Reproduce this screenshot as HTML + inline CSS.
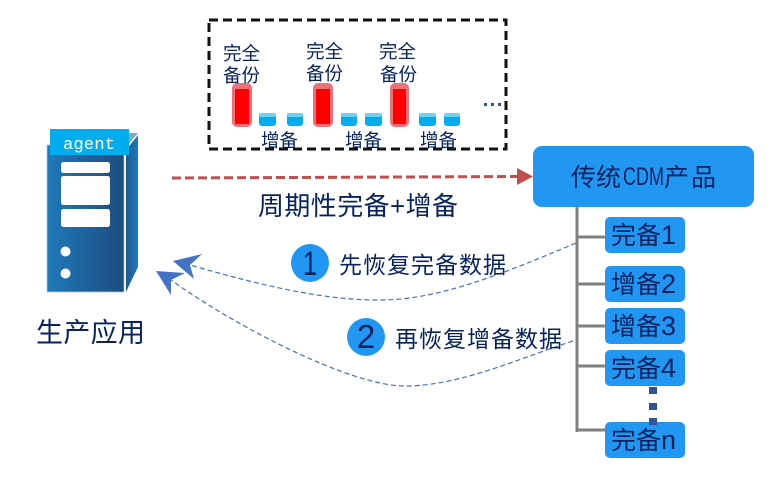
<!DOCTYPE html>
<html><head><meta charset="utf-8">
<style>
html,body{margin:0;padding:0;background:#fff;width:774px;height:481px;overflow:hidden}
svg{display:block}
text{font-family:"Liberation Sans","Noto Sans CJK SC",sans-serif;fill:#06235f}
</style></head>
<body>
<svg width="774" height="481" viewBox="0 0 774 481" xmlns="http://www.w3.org/2000/svg">
<defs>
<linearGradient id="g1" x1="0" x2="1" y1="0" y2="0"><stop offset="0" stop-color="#2079bb"/><stop offset="1" stop-color="#1c4c7e"/></linearGradient>
<linearGradient id="g2" x1="0" x2="1" y1="0" y2="0"><stop offset="0" stop-color="#1c5a94"/><stop offset="1" stop-color="#2078b8"/></linearGradient>
</defs>

<rect x="209" y="20" width="297" height="129" fill="#fff" stroke="#111" stroke-width="3" stroke-dasharray="9 5"/>

<g fill="#f0707a">
<rect x="232" y="83" width="20" height="44" rx="5"/>
<rect x="313" y="83" width="20" height="44" rx="5"/>
<rect x="390" y="83" width="19" height="44" rx="5"/>
</g>
<g fill="#ff0000">
<rect x="235" y="89" width="14" height="35"/>
<rect x="316" y="89" width="14" height="35"/>
<rect x="393" y="89" width="13" height="35"/>
</g>
<g>
<rect x="259" y="113" width="17" height="13" rx="3" fill="#00aeef"/><rect x="259" y="113" width="17" height="4" rx="2" fill="#6fd0f5"/>
<rect x="287" y="113" width="16" height="13" rx="3" fill="#00aeef"/><rect x="287" y="113" width="16" height="4" rx="2" fill="#6fd0f5"/>
<rect x="341" y="113" width="16" height="13" rx="3" fill="#00aeef"/><rect x="341" y="113" width="16" height="4" rx="2" fill="#6fd0f5"/>
<rect x="365" y="113" width="17" height="13" rx="3" fill="#00aeef"/><rect x="365" y="113" width="17" height="4" rx="2" fill="#6fd0f5"/>
<rect x="419" y="113" width="17" height="13" rx="3" fill="#00aeef"/><rect x="419" y="113" width="17" height="4" rx="2" fill="#6fd0f5"/>
<rect x="444" y="113" width="16" height="13" rx="3" fill="#00aeef"/><rect x="444" y="113" width="16" height="4" rx="2" fill="#6fd0f5"/>
</g>

<g font-size="18.500">
<text x="223" y="60">完全</text><text x="223" y="82">备份</text>
<text x="306" y="58">完全</text><text x="306" y="80">备份</text>
<text x="379" y="58">完全</text><text x="380" y="81">备份</text>
<text x="261" y="147">增备</text><text x="345" y="147">增备</text><text x="420" y="147">增备</text>
</g>
<g fill="#2f5597"><rect x="484" y="103" width="3" height="3"/><rect x="491" y="103" width="3" height="3"/><rect x="498" y="103" width="3" height="3"/></g>

<polygon points="47,145 124,145 124,292 47,292" fill="url(#g1)" stroke="#b5cbe0" stroke-width="0.700"/>
<polygon points="129,133 138,133 129,144" fill="#7fb0b5"/>
<polygon points="126,150 138,135 138,267 126,292" fill="url(#g2)"/>
<rect x="50" y="129" width="79" height="26" fill="#00aeef"/>
<text x="63" y="149" font-size="17" style="font-family:'Liberation Mono',monospace;fill:#fff" textLength="52" lengthAdjust="spacingAndGlyphs">agent</text>
<g fill="#fff">
<rect x="61" y="162" width="49" height="11" rx="2.500"/>
<rect x="61" y="176" width="49" height="29" rx="2.500"/>
<rect x="61" y="209" width="49" height="18" rx="2.500"/>
<circle cx="65.500" cy="251.500" r="5"/>
<circle cx="65.500" cy="273.500" r="5"/>
</g>
<text x="36" y="342" font-size="27" textLength="109">生产应用</text>

<line x1="172" y1="178" x2="520" y2="176.500" stroke="#c0504d" stroke-width="3" stroke-dasharray="9 4"/>
<polygon points="517,168 533,176.500 517,185" fill="#c0504d"/>
<text x="258" y="215" font-size="26" textLength="200">周期性完备+增备</text>

<rect x="533" y="146" width="221" height="61" rx="9" fill="#2196f3"/>
<text x="571" y="186" font-size="25" textLength="50">传统</text>
<text x="623" y="185" font-size="25" textLength="41" lengthAdjust="spacingAndGlyphs">CDM</text>
<text x="664" y="186" font-size="25" textLength="52">产品</text>

<g stroke="#7f7f7f" stroke-width="3" fill="none">
<line x1="577" y1="207" x2="577" y2="432"/>
<line x1="577" y1="237" x2="606" y2="237"/>
<line x1="577" y1="284" x2="606" y2="284"/>
<line x1="577" y1="326" x2="606" y2="326"/>
<line x1="577" y1="366" x2="606" y2="366"/>
<line x1="577" y1="430" x2="606" y2="430"/>
</g>
<g fill="#2196f3">
<rect x="605" y="217" width="80" height="36" rx="5"/>
<rect x="605" y="266" width="80" height="36" rx="5"/>
<rect x="605" y="308" width="80" height="36" rx="5"/>
<rect x="605" y="350" width="80" height="36" rx="5"/>
<rect x="605" y="422" width="80" height="36" rx="5"/>
</g>
<g fill="#2f5597">
<rect x="649" y="387" width="8" height="7"/>
<rect x="649" y="403" width="8" height="7"/>
<rect x="649" y="418" width="8" height="7"/>
</g>
<g font-size="25">
<text x="611" y="244">完备<tspan font-size="27">1</tspan></text>
<text x="611" y="293">增备<tspan font-size="27">2</tspan></text>
<text x="611" y="335">增备<tspan font-size="27">3</tspan></text>
<text x="611" y="377">完备<tspan font-size="27">4</tspan></text>
<text x="611" y="449">完备<tspan font-size="27">n</tspan></text>
</g>

<path d="M576,243 C500,275 440,299 383,300 C320,301 250,282 190,265" fill="none" stroke="#4472c4" stroke-width="1.200" stroke-dasharray="5 3"/>
<polygon points="173,261 202,254 190,265 194,279" fill="#4472c4"/>
<path d="M573,341 C520,358 460,386 405,386 C350,386 235,326 171,280" fill="none" stroke="#4472c4" stroke-width="1.200" stroke-dasharray="5 3"/>
<polygon points="156,271 185,273 171,280 171,295" fill="#4472c4"/>

<circle cx="310" cy="263" r="19" fill="#2196f3"/>
<text x="310" y="275" font-size="34" text-anchor="middle" textLength="14" lengthAdjust="spacingAndGlyphs">1</text>
<circle cx="366" cy="337" r="19" fill="#2196f3"/>
<text x="366" y="348" font-size="33" text-anchor="middle">2</text>
<text x="339" y="273" font-size="23" textLength="167">先恢复完备数据</text>
<text x="395" y="347" font-size="23" textLength="167">再恢复增备数据</text>
</svg>
</body></html>
